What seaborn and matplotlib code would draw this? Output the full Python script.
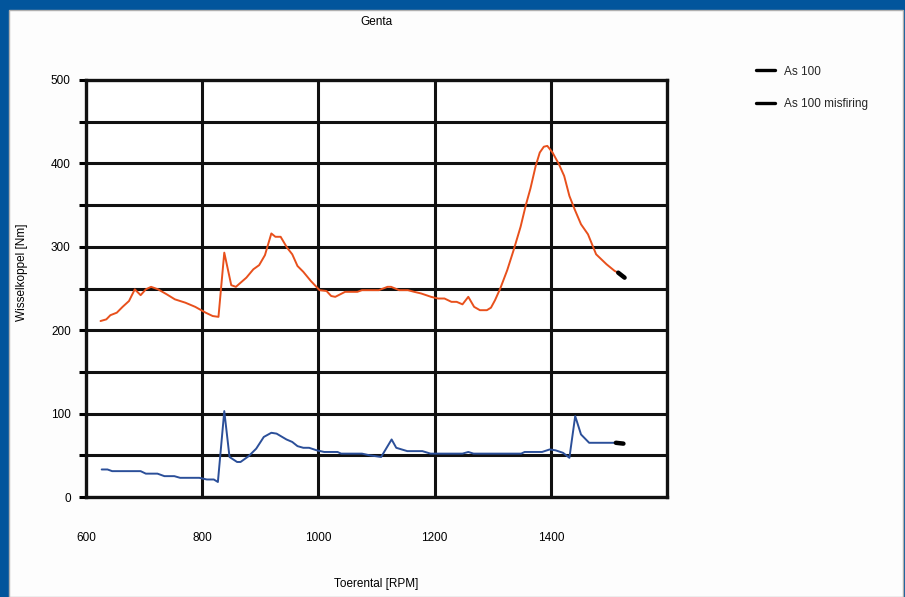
import matplotlib
matplotlib.use("Agg")
import matplotlib.pyplot as plt
from matplotlib.lines import Line2D
from matplotlib.patches import Rectangle
import seaborn as sns
import pandas as pd

# ---- data ----
rpm_as100 = [625, 635, 642, 653, 663, 674, 684, 694, 703, 712, 724, 739, 753, 771, 788, 806,
             818, 828, 838, 850, 858, 876, 888, 898, 908, 919, 926, 935, 946, 955, 964, 974,
             987, 1002, 1014, 1022, 1029, 1046, 1067, 1075, 1104, 1119, 1125, 1139, 1154, 1165,
             1177, 1194, 1206, 1217, 1229, 1238, 1248, 1258, 1268, 1278, 1290, 1297, 1304, 1313,
             1325, 1336, 1348, 1357, 1365, 1374, 1381, 1388, 1394, 1403, 1414, 1423, 1432, 1441,
             1452, 1464, 1478, 1496, 1510, 1516, 1527]
torque_as100 = [211, 213, 218, 221, 228, 235, 249, 242, 249, 252, 249, 243, 237, 233, 228, 221,
                217, 216, 293, 254, 252, 263, 273, 278, 290, 316, 312, 312, 299, 291, 277, 270,
                259, 248, 247, 241, 240, 246, 246, 248, 248, 252, 252, 248, 248, 246,
                244, 240, 238, 238, 234, 234, 231, 240, 228, 224, 224, 227, 236, 250,
                272, 296, 324, 350, 370, 397, 413, 420, 421, 413, 399, 385, 361, 345,
                327, 315, 291, 279, 271, 269, 263]

rpm_misfire = [627, 637, 645, 694, 703, 723, 735, 752, 762, 795, 808, 820, 827, 838, 847, 860,
               866, 880, 893, 906, 919, 928, 945, 955, 964, 974, 984, 997, 1010, 1033, 1039,
               1075, 1088, 1108, 1126, 1134, 1153, 1179, 1193, 1248, 1258, 1267, 1349, 1355,
               1385, 1398, 1408, 1421, 1432, 1442, 1452, 1466, 1512, 1525]
torque_misfire = [33, 33, 31, 31, 28, 28, 25, 25, 23, 23, 21, 21, 18, 103, 48, 42,
                  42, 49, 58, 72, 77, 76, 69, 66, 61, 59, 59, 56, 54, 54, 52,
                  52, 50, 48, 69, 59, 55, 55, 52, 52, 54, 52, 52, 54,
                  54, 57, 56, 53, 47, 97, 75, 65, 65, 64]

series_names = ["As 100", "As 100 misfiring"]
series_colors = ["#e8501c", "#2b4f99"]
x_ticks = [600, 800, 1000, 1200, 1400, 1600]
x_tick_labels = ["600", "800", "1000", "1200", "1400", ""]
y_ticks = [0, 100, 200, 300, 400, 500]
title_text = "Genta"
x_label = "Toerental [RPM]"
y_label = "Wisselkoppel [Nm]"

# ---- figure ----
sns.set_theme(style="white")
plt.rcParams["font.family"] = ["Liberation Sans", "DejaVu Sans"]

W, H = 905, 597
fig = plt.figure(figsize=(W / 100, H / 100), dpi=100)
fig.patch.set_facecolor("#02559c")
fig.patches.append(Rectangle((9 / W, 0), (903 - 9) / W, (H - 10) / H,
                             transform=fig.transFigure, facecolor="#fdfdfd",
                             edgecolor="#b0b0b0", linewidth=1.0, zorder=-5))

ax = fig.add_axes([86 / W, 1 - 497 / H, (667 - 86) / W, (497 - 80) / H])
ax.set_zorder(2)
ax.set_facecolor("white")

df1 = pd.DataFrame({"rpm": rpm_as100, "torque": torque_as100})
df2 = pd.DataFrame({"rpm": rpm_misfire, "torque": torque_misfire})

for df, color in zip([df1, df2], series_colors):
    sns.lineplot(data=df, x="rpm", y="torque", ax=ax, color=color, linewidth=1.4,
                 sort=False, estimator=None, zorder=3)
    sns.lineplot(data=df.tail(2), x="rpm", y="torque", ax=ax, color="black",
                 linewidth=3.2, sort=False, estimator=None, zorder=4,
                 solid_capstyle="round")

ax.set_xlim(600, 1600)
ax.set_ylim(0, 500)
ax.set_xticks(x_ticks)
ax.set_xticklabels(x_tick_labels)
ax.set_yticks(y_ticks)
ax.set_yticks(list(range(0, 501, 50)), minor=True)

# grid
for v in range(50, 500, 50):
    ax.axhline(v, color="#111111", linewidth=2.2, zorder=1)
for v in x_ticks[1:-1]:
    ax.axvline(v, color="#111111", linewidth=2.2, zorder=1)

for s in ax.spines.values():
    s.set_color("#111111")
    s.set_linewidth(2.4)
    s.set_visible(True)

ax.tick_params(axis="x", which="both", length=0, pad=25, labelsize=8.5, colors="#000000")
ax.tick_params(axis="y", which="both", length=5, width=2.2, direction="out",
               pad=6, labelsize=8.5, colors="#000000", left=True)
for lbl in ax.get_xticklabels():
    lbl.set_x(lbl.get_position()[0])
ax.set_xlabel("")
ax.set_ylabel("")

fig.text((86 + 667) / 2 / W, 1 - 22 / H, title_text, ha="center", va="center",
         fontsize=8.5, color="#000000")
fig.text((86 + 667) / 2 / W, 1 - 584 / H, x_label, ha="center", va="center",
         fontsize=8.5, color="#000000")
fig.text(22 / W, 1 - 272 / H, y_label, ha="center", va="center", rotation=90,
         fontsize=8.5, color="#000000")

handles = [Line2D([0], [0], color="black", linewidth=2.4) for _ in series_names]
fig.legend(handles, series_names, loc="upper left", bbox_to_anchor=(745 / W, 1 - 55 / H),
           frameon=False, fontsize=8.5, handlelength=1.6, labelspacing=1.75,
           handletextpad=0.8)

fig.savefig("out.png", dpi=100, facecolor=fig.get_facecolor())
